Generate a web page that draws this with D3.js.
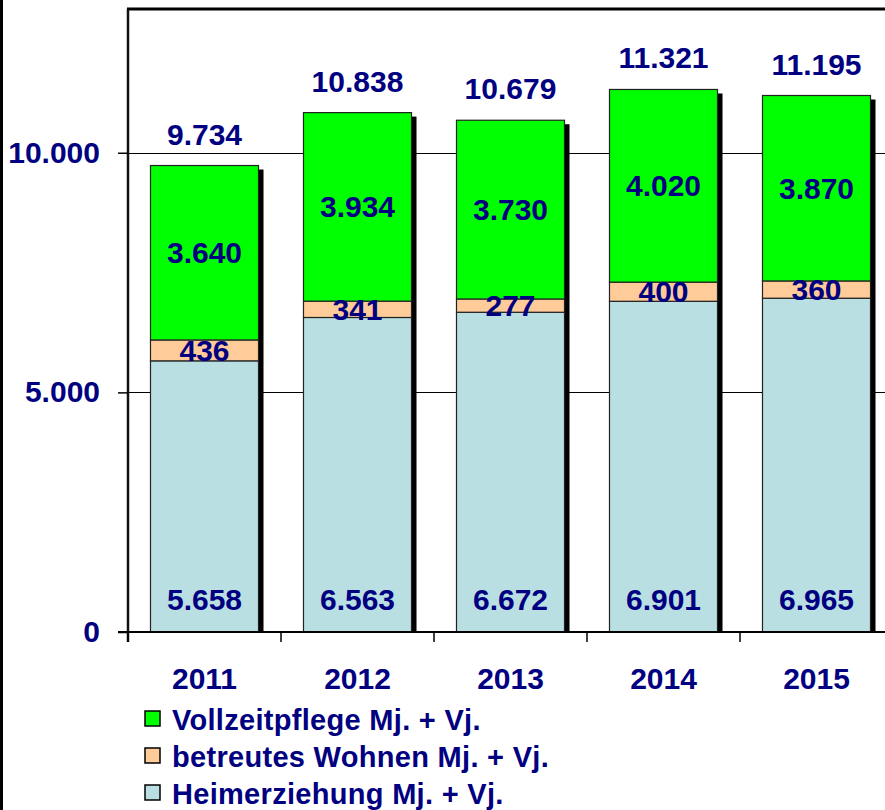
<!DOCTYPE html>
<html>
<head>
<meta charset="utf-8">
<script src="https://cdn.jsdelivr.net/npm/d3@7"></script>
<style>
  body { margin: 0; background: #fff; }
  svg { display: block; }
  text { font-family: "Liberation Sans", Arial, sans-serif; font-weight: bold; fill: #000080; }
</style>
</head>
<body>
<div id="chart"></div>
<script>
// data
var years = ["2011", "2012", "2013", "2014", "2015"];
var heim = [5658, 6563, 6672, 6901, 6965];
var betreut = [436, 341, 277, 400, 360];
var vollzeit = [3640, 3934, 3730, 4020, 3870];
var totals = [9734, 10838, 10679, 11321, 11195];
var yTicks = [0, 5000, 10000];
var seriesNames = ["Vollzeitpflege Mj. + Vj.", "betreutes Wohnen Mj. + Vj.", "Heimerziehung Mj. + Vj."];
var colors = { heim: "#b9dfe3", betreut: "#ffcc99", vollzeit: "#00ff00" };

var width = 885, height = 810;
var de = d3.formatLocale({decimal: ",", thousands: ".", grouping: [3], currency: ["", "€"]});
var fmt = de.format(",d");

var svg = d3.select("#chart").append("svg")
    .attr("width", width).attr("height", height);

var x = d3.scaleBand().domain(years).range([128, 893])
    .paddingInner(0.294).paddingOuter(0.147);
var y = d3.scaleLinear().domain([0, 13000]).range([632, 9]);

// frame on the left edge
svg.append("rect").attr("x", 0).attr("y", 0).attr("width", 3).attr("height", height).attr("fill", "#000");

// gridlines
svg.selectAll("line.grid")
    .data(yTicks.filter(function(d){ return d > 0; }))
    .enter().append("line")
    .attr("class", "grid")
    .attr("x1", 128).attr("x2", width)
    .attr("y1", function(d){ return Math.round(y(d)) + 0.5; })
    .attr("y2", function(d){ return Math.round(y(d)) + 0.5; })
    .attr("stroke", "#000").attr("stroke-width", 1);

// top border of plot
svg.append("line").attr("x1", 127).attr("x2", width).attr("y1", 9).attr("y2", 9)
    .attr("stroke", "#000").attr("stroke-width", 3);

// stacked data
var stacks = years.map(function(yr, i){
    return [
        {key: "heim", y0: 0, y1: heim[i], v: heim[i]},
        {key: "betreut", y0: heim[i], y1: heim[i] + betreut[i], v: betreut[i]},
        {key: "vollzeit", y0: heim[i] + betreut[i], y1: totals[i], v: vollzeit[i]}
    ];
});

// shadows
svg.selectAll("rect.shadow")
    .data(years)
    .enter().append("rect")
    .attr("class", "shadow")
    .attr("x", function(d){ return x(d) + 5; })
    .attr("y", function(d, i){ return y(totals[i]) + 4; })
    .attr("width", x.bandwidth())
    .attr("height", function(d, i){ return y(0) - y(totals[i]) - 4; })
    .attr("fill", "#000");

// bars
var groups = svg.selectAll("g.bar")
    .data(stacks)
    .enter().append("g")
    .attr("class", "bar")
    .attr("transform", function(d, i){ return "translate(" + x(years[i]) + ",0)"; });

groups.selectAll("rect")
    .data(function(d){ return d; })
    .enter().append("rect")
    .attr("x", 0)
    .attr("y", function(d){ return y(d.y1); })
    .attr("width", x.bandwidth())
    .attr("height", function(d){ return y(d.y0) - y(d.y1); })
    .attr("fill", function(d){ return colors[d.key]; })
    .attr("stroke", "#222").attr("stroke-width", 1.2);

// segment labels
groups.selectAll("text")
    .data(function(d){ return d; })
    .enter().append("text")
    .attr("x", x.bandwidth() / 2)
    .attr("y", function(d){
        if (d.key === "heim") return y(0) - 22;
        return (y(d.y0) + y(d.y1)) / 2;
    })
    .attr("dominant-baseline", function(d){ return d.key === "heim" ? "auto" : "central"; })
    .attr("text-anchor", "middle")
    .attr("font-size", 30)
    .text(function(d){ return fmt(d.v); });

// totals
svg.selectAll("text.total")
    .data(totals)
    .enter().append("text")
    .attr("class", "total")
    .attr("x", function(d, i){ return x(years[i]) + x.bandwidth() / 2; })
    .attr("y", function(d){ return y(d) - 21; })
    .attr("text-anchor", "middle")
    .attr("font-size", 30)
    .text(function(d){ return fmt(d); });

// y axis
var yAxis = d3.axisLeft(y).tickValues(yTicks).tickSize(10).tickPadding(18).tickFormat(fmt);
var ya = svg.append("g").attr("transform", "translate(128,0)").call(yAxis);
ya.select(".domain").attr("stroke", "#111").attr("stroke-width", 2.5)
    .attr("d", "M0,9V642");
ya.selectAll(".tick line").attr("stroke", "#000").attr("stroke-width", 1.5);
ya.selectAll(".tick text").attr("font-size", 30).attr("fill", "#000080")
    .attr("font-family", "Liberation Sans, Arial, sans-serif").attr("font-weight", "bold");

// x axis
var xAxis = d3.axisBottom(x).tickSize(0).tickPadding(36);
var xa = svg.append("g").attr("transform", "translate(0,632)").call(xAxis);
xa.select(".domain").attr("stroke", "#000").attr("stroke-width", 2).attr("d", "M118,0H" + width);
xa.selectAll(".tick text").attr("font-size", 30).attr("fill", "#000080")
    .attr("font-family", "Liberation Sans, Arial, sans-serif").attr("font-weight", "bold");

// category boundary ticks
svg.selectAll("line.xtick")
    .data(years)
    .enter().append("line")
    .attr("class", "xtick")
    .attr("x1", function(d){ return x(d) - (x.step() - x.bandwidth()) / 2; })
    .attr("x2", function(d){ return x(d) - (x.step() - x.bandwidth()) / 2; })
    .attr("y1", 632).attr("y2", 642)
    .attr("stroke", "#000").attr("stroke-width", 1.5);

// legend
var legendKeys = ["vollzeit", "betreut", "heim"];
var legend = svg.selectAll("g.legend")
    .data(seriesNames)
    .enter().append("g")
    .attr("class", "legend")
    .attr("transform", function(d, i){ return "translate(145," + (711 + i * 37) + ")"; });
legend.append("rect")
    .attr("width", 15).attr("height", 15)
    .attr("fill", function(d, i){ return colors[legendKeys[i]]; })
    .attr("stroke", "#000").attr("stroke-width", 1.5);
legend.append("text")
    .attr("x", 27).attr("y", 19)
    .attr("font-size", 29)
    .attr("letter-spacing", 0.3)
    .text(function(d){ return d; });
</script>
</body>
</html>
